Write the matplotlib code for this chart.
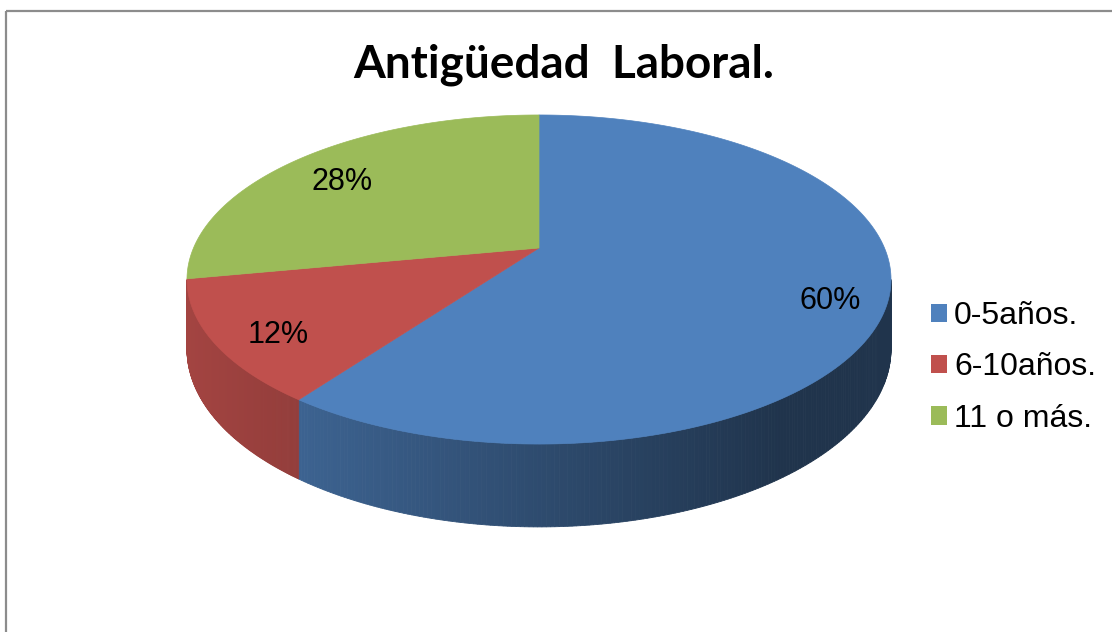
import numpy as np
import matplotlib
matplotlib.use("Agg")
import matplotlib.pyplot as plt
from matplotlib.patches import Polygon, Patch, Rectangle
from matplotlib.colors import to_rgb

categories = ["0-5años.", "6-10años.", "11 o más."]
values = [60, 12, 28]
pct_labels = ["60%", "12%", "28%"]
colors = ["#4F81BD", "#C0504D", "#9BBB59"]
title = "Antigüedad  Laboral."

# layout of the 3d pie (pixels), perspective factor P
W, H = 1112, 632
cx, cy = 539, 248
R, S, P = 345.5, 158.5, 0.1915
D = 67


def proj(t, r=1.0):
    s = np.sin(t) * r
    c = np.cos(t) * r
    w = 1 + P * s
    return cx + R * c / w, cy - S * s / w, w


fig = plt.figure(figsize=(11.12, 6.32), dpi=100)
ax = fig.add_axes([0, 0, 1, 1])
ax.set_xlim(0, W)
ax.set_ylim(H, 0)
ax.axis("off")

# chart border
ax.add_patch(Rectangle((6, 11), W + 50, H + 50, fill=False, edgecolor="#8c8c8c", lw=1.6))

fracs = np.array(values) / sum(values)
bounds = np.radians(90 - 360 * np.concatenate([[0], np.cumsum(fracs)]))
vis_hi = -np.arcsin(P)
vis_lo = -np.pi + np.arcsin(P)

# sides (only front part visible)
for i, col in enumerate(colors):
    hi, lo = bounds[i], bounds[i + 1]
    a, b = min(hi, vis_hi), max(lo, vis_lo)
    if a <= b:
        continue
    ts = np.linspace(b, a, 200)
    base = np.array(to_rgb(col))
    for t1, t2 in zip(ts[:-1], ts[1:]):
        x1, y1, w1 = proj(t1)
        x2, y2, w2 = proj(t2)
        xn = ((x1 + x2) / 2 - cx) / 352
        f = 0.85 - 0.45 * np.clip((xn + 1) / 1.7, 0, 1)
        c = np.clip(base * f, 0, 1)
        ax.add_patch(Polygon([(x1, y1), (x2, y2), (x2, y2 + D / w2), (x1, y1 + D / w1)],
                             closed=True, facecolor=c, edgecolor=c, lw=0.6))

# top faces
for i, col in enumerate(colors):
    ts = np.linspace(bounds[i], bounds[i + 1], 300)
    xs, ys, _ = proj(ts)
    pts = [(cx, cy)] + list(zip(xs, ys))
    ax.add_patch(Polygon(pts, closed=True, facecolor=col, edgecolor=col, lw=0.5))

# percentage labels
for i, lab in enumerate(pct_labels):
    mid = (bounds[i] + bounds[i + 1]) / 2
    x, y, _ = proj(mid, 0.83)
    ax.text(x + 4, y + 10, lab, ha="center", va="center", fontsize=22,
            family="Liberation Sans", color="black")

ax.text(564, 77, title, ha="center", va="baseline", fontsize=33,
        family="Lato", fontweight="bold", color="black")

handles = [Patch(facecolor=c, edgecolor="none") for c in colors]
fig.legend(handles, categories, loc="upper left",
           bbox_to_anchor=(931 / W, 1 - 301 / H), frameon=False,
           prop={"family": "Liberation Sans", "size": 23},
           handlelength=0.5, handleheight=0.5, handletextpad=0.22,
           labelspacing=0.67, borderpad=0, borderaxespad=0)

fig.savefig("out.png", dpi=100)
